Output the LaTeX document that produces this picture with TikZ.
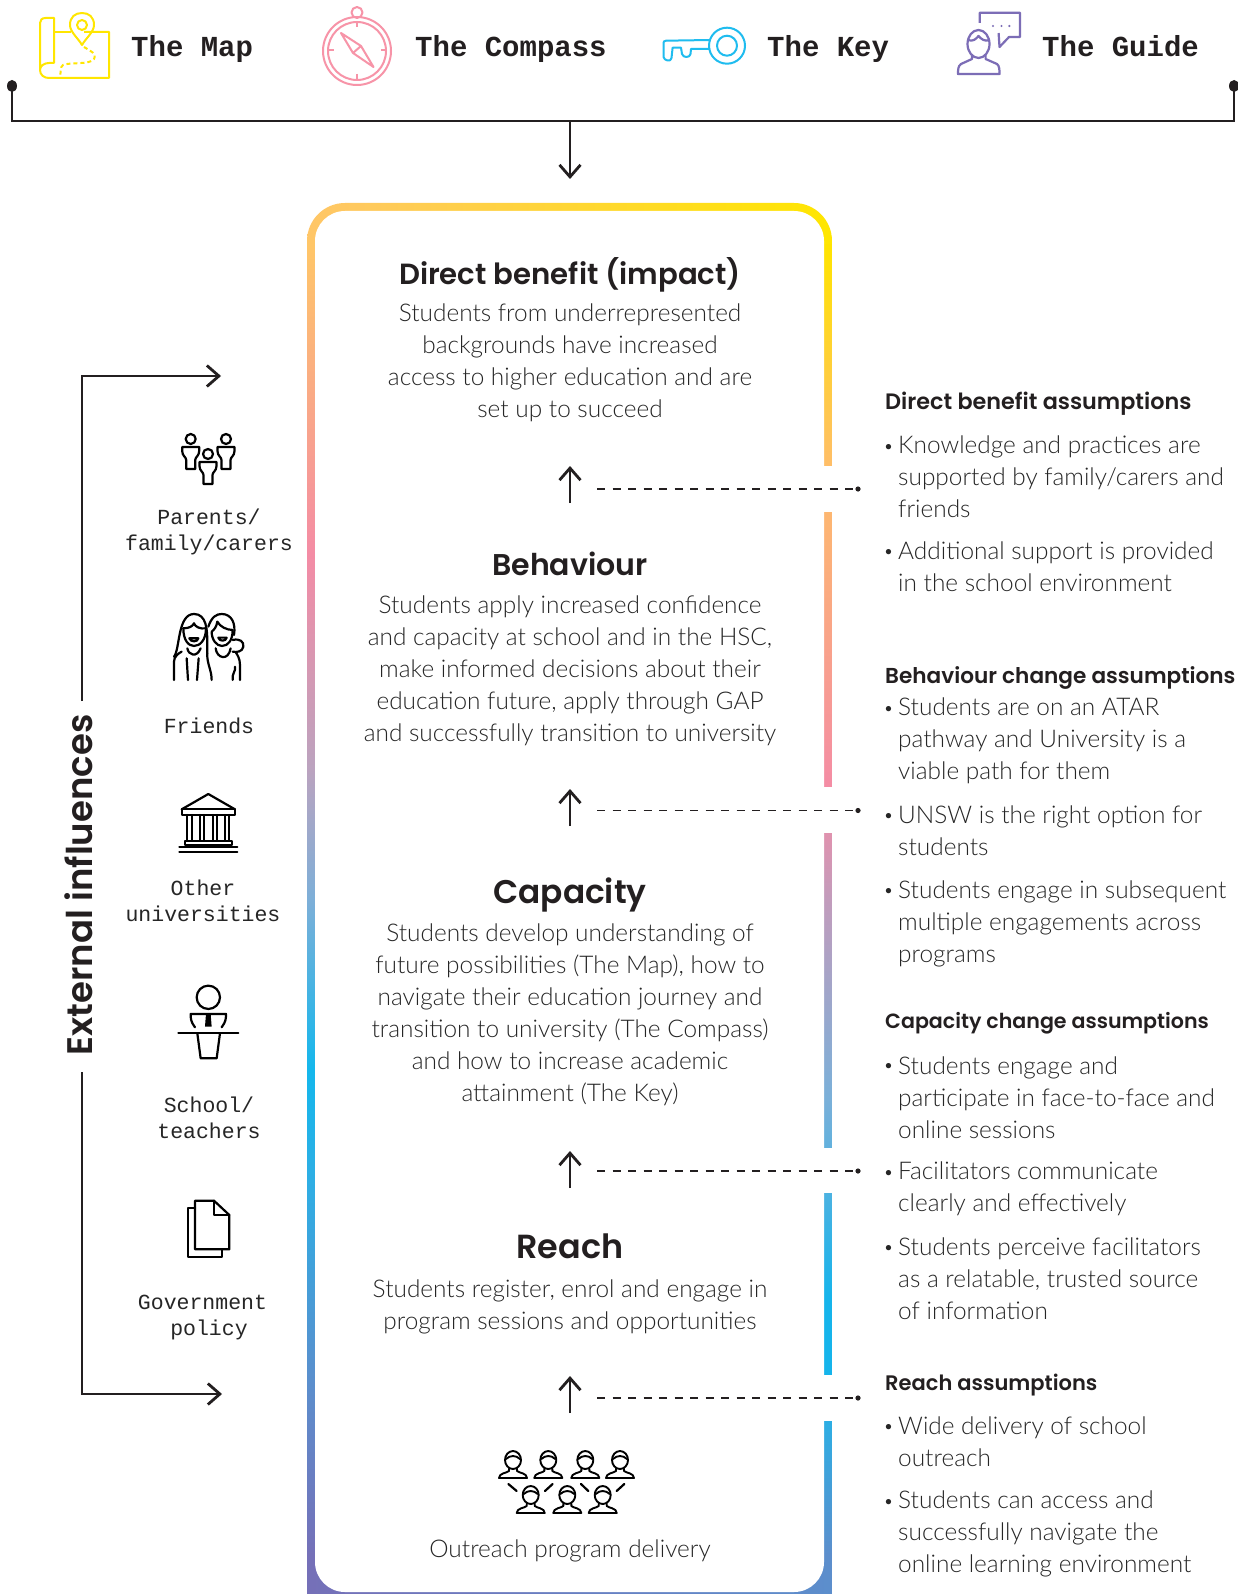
\documentclass[tikz,border=0pt]{standalone}
\usepackage{fontspec}
\usetikzlibrary{arrows.meta}
\setmainfont{Lato}
\newfontfamily\bodyf{Lato Light}
\newfontfamily\headf{Poppins SemiBold}
\newfontfamily\monof{Liberation Mono}
\definecolor{ink}{HTML}{231F20}
\definecolor{txt}{HTML}{262626}
\definecolor{cyel}{HTML}{FFE600}
\definecolor{cpink}{HTML}{F794A8}
\definecolor{lA}{HTML}{7570B8}
\definecolor{lB}{HTML}{5E8CCB}
\definecolor{lB2}{HTML}{2EAEE4}
\definecolor{lC}{HTML}{14B7EC}
\definecolor{lD}{HTML}{7DAFD8}
\definecolor{lD2}{HTML}{BBA3BF}
\definecolor{lE}{HTML}{F48CA5}
\definecolor{lF}{HTML}{FFC668}
\definecolor{rA}{HTML}{5C8ECC}
\definecolor{rB}{HTML}{30ACE2}
\definecolor{rC}{HTML}{15B4EB}
\definecolor{rD}{HTML}{7AB0D9}
\definecolor{rE}{HTML}{C29CBC}
\definecolor{rF}{HTML}{F48CA5}
\definecolor{rG}{HTML}{FFBE68}
\definecolor{rH}{HTML}{FFE400}
\pgfdeclareverticalshading{leftbar}{100bp}{%
 color(0bp)=(lA);
 color(25bp)=(lA);
 color(31bp)=(lB);
 color(39.3bp)=(lB2);
 color(43.5bp)=(lC);
 color(50bp)=(lD);
 color(55bp)=(lD2);
 color(63.2bp)=(lE);
 color(75bp)=(lF);
 color(100bp)=(lF)}
\pgfdeclareverticalshading{rightbar}{100bp}{%
 color(0bp)=(rA);
 color(25bp)=(rA);
 color(29.8bp)=(rB);
 color(31.7bp)=(rC);
 color(34.7bp)=(rC);
 color(42.4bp)=(rD);
 color(50bp)=(rE);
 color(54.3bp)=(rF);
 color(66.6bp)=(rG);
 color(75bp)=(rH);
 color(100bp)=(rH)}
\tikzset{
 x=1pt,y=-1pt,
 arr/.style={draw=ink,line width=2.8pt,-{Straight Barb[length=12pt,width=21pt,line width=2.8pt]}},
 rail/.style={draw=ink,line width=2.8pt},
 dashconn/.style={draw=ink,line width=1.1pt,dash pattern=on 8pt off 7.5pt},
 ttl/.style={font=\monof\bfseries\fontsize{29}{32}\selectfont,text=ink,anchor=base west,inner sep=0pt},
 lbl/.style={font=\monof\fontsize{21.5}{25.5}\selectfont,text=txt,align=center,inner sep=0pt},
 headA/.style={font=\headf\fontsize{30}{36}\selectfont,text=ink,inner sep=0pt},
 bodyt/.style={font=\bodyf\fontsize{24.4}{32}\selectfont,text=txt,align=center,inner sep=0pt},
 sh/.style={text=ink,anchor=west,inner sep=0pt},
 it/.style={font=\bodyf\fontsize{24.4}{32}\selectfont,text=txt,align=left,anchor=west,inner sep=0pt},
 bu/.style={font=\bodyf\fontsize{18}{22}\selectfont,text=txt,inner sep=0pt},
 ic/.style={draw=black,line width=2.2pt,line join=round,line cap=round},
 pics/fam/.style={code={
   \draw[ic] (0,-9) circle (5);
   \draw[ic] (-8.5,-1) -- (8.5,-1) -- (8.5,3) .. controls (8.5,8) and (4.5,9) .. (4.5,12) -- (4.5,21) -- (-4.5,21) -- (-4.5,12) .. controls (-4.5,9) and (-8.5,8) .. (-8.5,3) -- cycle;
 }},
 pics/aud/.style={code={
   \draw[ic,line width=1.9pt] (0,0) circle (8 and 9);
   \draw[ic,line width=1.9pt] (-7,-1) .. controls (-3,-5) and (3,-5) .. (7,-1);
   \draw[ic,line width=1.9pt] (-4,8.5) -- (-4,11) .. controls (-6,13) and (-14,13) .. (-14,18) -- (14,18) .. controls (14,13) and (6,13) .. (4,11) -- (4,8.5);
 }},
}
\begin{document}
\begin{tikzpicture}
\useasboundingbox[fill=white] (0,0) rectangle (1238,1594);
% frame
\begin{scope}
 \clip[rounded corners=38pt] (307,203) rectangle (832,1640);
 \shade[left color=lF,right color=cyel] (307,203) rectangle (832,245);
 \shade[shading=leftbar] (307,245) rectangle (320,1555);
 \shade[shading=rightbar] (820,245) rectangle (832,1555);
 \shade[left color=lA,right color=rA] (307,1555) rectangle (832,1640);
 \fill[white,rounded corners=30pt] (315,211) rectangle (824,1592);
\end{scope}
\fill[white] (820,466) rectangle (834,512);
\fill[white] (820,787) rectangle (834,833);
\fill[white] (820,1148) rectangle (834,1193);
\fill[white] (820,1375) rectangle (834,1421);

% top titles
\node[ttl] (tmap) at (131,57) {The Map};
\node[ttl] (tcomp) at (415,57) {The Compass};
\node[ttl] (tkey) at (767,57) {The Key};
\node[ttl] (tguide) at (1042,57) {The Guide};

% top rail
\coordinate (dotL) at (12,86);
\coordinate (dotR) at (1234,86);
\coordinate (hub) at (570,121);
\coordinate (hubtip) at (570,179);
\fill[ink] (dotL) ellipse (5 and 6);
\fill[ink] (dotR) ellipse (5 and 6);
\draw[rail,line cap=butt] (dotL) |- (hub) -| (dotR);
\draw[arr] (hub) -- (hubtip);

% map icon
\begin{scope}[line width=2pt,line join=round]
 \draw[cyel] (84,32) -- (109,32) -- (109,78) -- (49,78) .. controls (44,78) and (40,75) .. (40,70) -- (40,23) .. controls (40,20) and (42,18) .. (45.5,18) -- (54,18) -- (54,63) -- (49,63) .. controls (44,63) and (40,66) .. (40,70);
 \draw[cyel] (54,32) -- (71,32);
 \draw[cyel] (82,45) .. controls (78,38) and (70,32) .. (70,25) .. controls (70,17) and (75,13) .. (82,13) .. controls (89,13) and (94,17) .. (94,25) .. controls (94,32) and (86,38) .. (82,45) -- cycle;
 \draw[cyel] (82,25) circle (5);
 \draw[cyel,dash pattern=on 4pt off 3pt] (84,47) .. controls (90,51) and (97,53) .. (94,59) .. controls (90,65) and (70,62) .. (63,65) .. controls (60,67) and (60.5,72) .. (60.5,78);
\end{scope}

% compass icon
\begin{scope}[line width=2pt,line join=round]
 \draw[cpink] (357,51) circle (34);
 \draw[cpink] (357,51) circle (29);
 \draw[cpink] (357,12.5) circle (5.5);
 \draw[cpink] (357,22) -- (357,27);
 \draw[cpink] (357,74) -- (357,79);
 \draw[cpink] (329,50) -- (334,50);
 \draw[cpink] (381,50) -- (386,50);
 \draw[cpink] (341,33) -- (361,46) -- (373.5,67) -- (353,53) -- cycle;
 \draw[cpink] (361,46) -- (353,53);
\end{scope}

% key icon
\definecolor{ckey}{HTML}{1FBCEF}
\begin{scope}[line width=2pt,line join=round]
 \draw[ckey] (727,45.7) circle (18);
 \draw[ckey] (727,45.7) circle (10);
 \draw[ckey] (710,40) -- (666,40.7) .. controls (664,40.7) and (663.5,42) .. (663.5,43) -- (663.5,57) .. controls (664,60.5) and (671,62.5) .. (671.5,58) -- (672.6,47.7) -- (681,47.7) -- (682,54) .. controls (683,58) and (690,58) .. (690.5,54) -- (691,49) -- (710,49);
\end{scope}

% guide icon
\definecolor{cgd}{HTML}{7C6DB6}
\begin{scope}[line width=2.2pt,line join=round]
 \draw[cgd] (979.7,23) -- (979.7,12.7) -- (1020,12.7) -- (1020,37) -- (1009,37) -- (999.5,47) -- (998.6,33);
 \fill[cgd] (993,26) circle (1.2) (1001.5,26) circle (1.2) (1009.3,26) circle (1.2);
 \draw[cgd] (978.5,44) ellipse (11 and 14);
 \draw[cgd] (968,40) .. controls (973,42) and (976,39) .. (978.5,36) .. controls (981,39) and (985,42) .. (989.5,40);
 \draw[cgd] (972,55) -- (972,59) -- (961,64) .. controls (958,66) and (958,70) .. (958,74) -- (999.5,74) .. controls (999.5,70) and (999.5,66) .. (997,64) -- (985.6,59) -- (985.6,55);
\end{scope}

% external influences
\node[font=\headf\fontsize{35.5}{40}\selectfont,text=ink,rotate=90,inner sep=0pt] (ext) at (79,885) {External influences};
\coordinate (extTop) at (221,376);
\coordinate (extBot) at (222,1394);
\coordinate (extTopL) at (82,701);
\coordinate (extBotL) at (82,1072);
\draw[arr] (extTopL) |- (extTop);
\draw[arr] (extBotL) |- (extBot);

% left icons
\pic at (190.7,448) {fam};
\pic at (226,448) {fam};
\pic at (208,463) {fam};
\node[lbl] (parents) at (209,532) {Parents/\\family/carers};

\begin{scope}[shift={(100,410)},x=.3333pt,y=-.3333pt]
 \draw[ic] (222,740) .. controls (240,720) and (232,612) .. (282,612) .. controls (320,612) and (322,660) .. (322,700) -- (322,730);
 \draw[ic] (250,655) .. controls (250,690) and (265,708) .. (282,708) .. controls (300,708) and (318,690) .. (318,655);
 \draw[ic] (250,655) .. controls (265,655) and (278,650) .. (282,640) .. controls (285,650) and (300,658) .. (318,655);
 \draw[ic] (268,685) -- (295,685) .. controls (293,697) and (272,697) .. (268,685) -- cycle;
 \draw[ic] (262,715) .. controls (265,735) and (290,745) .. (302,715);
 \draw[ic] (222,810) -- (222,755) .. controls (222,740) and (235,730) .. (245,725);
 \draw[ic] (264,810) -- (260,745);
 \draw[ic] (291,810) -- (296,745);
 \draw[ic] (322,730) .. controls (320,760) and (335,780) .. (335,810);
 \draw[ic] (325,650) .. controls (335,620) and (350,612) .. (365,612) .. controls (395,612) and (408,640) .. (402,675);
 \draw[ic] (335,665) .. controls (335,690) and (350,708) .. (366,708) .. controls (385,708) and (398,690) .. (398,660) .. controls (380,660) and (360,650) .. (352,635) .. controls (350,650) and (342,660) .. (335,665);
 \draw[ic] (355,683) -- (380,683) .. controls (378,695) and (358,695) .. (355,683) -- cycle;
 \draw[ic] (347,715) .. controls (350,745) and (385,755) .. (392,715);
 \draw[ic] (398,690) .. controls (420,685) and (432,695) .. (430,710) .. controls (428,725) and (410,728) .. (398,725);
 \draw[ic] (420,810) -- (420,765) .. controls (420,745) and (412,735) .. (408,728);
 \draw[ic] (398,810) .. controls (395,790) and (408,785) .. (405,770);
\end{scope}
\node[lbl] (friends) at (209,726) {Friends};

\begin{scope}[shift={(100,770)},x=.3333pt,y=-.3333pt]
 \draw[ic] (245,118) -- (325,72) -- (405,118);
 \draw[ic] (245,118) rectangle (405,135);
 \draw[ic] (262,135) -- (262,212) (275,135) -- (275,212);
 \draw[ic] (300,135) -- (300,212) (312,135) -- (312,212);
 \draw[ic] (338,135) -- (338,212) (350,135) -- (350,212);
 \draw[ic] (375,135) -- (375,212) (388,135) -- (388,212);
 \draw[ic] (255,212) -- (395,212) -- (395,225) -- (255,225) -- cycle;
 \draw[ic] (238,232) -- (412,232) (238,245) -- (412,245);
\end{scope}
\node[lbl] (other) at (203,901) {Other\\universities};

\begin{scope}[shift={(100,770)},x=.3333pt,y=-.3333pt]
 \draw[ic] (325,682) circle (35);
 \draw[ic] (285,772) .. controls (272,755) and (272,745) .. (272,732) -- (378,732) .. controls (378,745) and (378,755) .. (365,772);
 \fill[black] (318,732) -- (332,732) -- (335,770) -- (315,770) -- cycle;
 \draw[ic] (235,788) -- (415,788);
 \draw[ic] (292,790) -- (302,865) -- (350,865) -- (360,790);
\end{scope}
\node[lbl] (school) at (209,1118) {School/\\teachers};

\begin{scope}[shift={(60,1180)},x=.3333pt,y=-.3333pt]
 \draw[ic] (405,62) -- (462,62) -- (508,105) -- (508,208) -- (405,208) -- cycle;
 \draw[ic] (462,62) -- (462,105) -- (508,105);
 \draw[ic] (405,85) -- (383,85) -- (383,230) -- (487,230) -- (487,208);
\end{scope}
\node[lbl] (gov) at (202.5,1302) {Government};
\node[lbl] (pol) at (209,1330) {policy};

% centre
\node[headA,font=\headf\fontsize{29.2}{36}\selectfont] (h1) at (570,274.5) {Direct benefit (impact)};
\node[bodyt] (b1) at (570,362.5) {Students from underrepresented\\backgrounds have increased\\access to higher education and are\\set up to succeed};
\node[headA] (h2) at (570,564) {Behaviour};
\node[bodyt] (b2) at (570,670.5) {Students apply increased confidence\\and capacity at school and in the HSC,\\make informed decisions about their\\education future, apply through GAP\\and successfully transition to university};
\node[headA,font=\headf\fontsize{32.8}{40}\selectfont] (h3) at (570,895) {Capacity};
\node[bodyt] (b3) at (570,1015) {Students develop understanding of\\future possibilities (The Map), how to\\navigate their education journey and\\transition to university (The Compass)\\and how to increase academic\\attainment (The Key)};
\node[headA,font=\headf\fontsize{33.4}{40}\selectfont] (h4) at (570,1246) {Reach};
\node[bodyt] (b4) at (570,1306.5) {Students register, enrol and engage in\\program sessions and opportunities};
\foreach \x/\y in {513/1460,548.3/1460,585.3/1460,620/1460,530.7/1495,567.3/1495,602.7/1495} \pic at (\x,\y) {aud};
\begin{scope}[shift={(400,1360)},x=.3333pt,y=-.3333pt]
 \draw[ic] (325,372) -- (350,393) (435,393) -- (458,372) (543,372) -- (565,393) (650,393) -- (673,372);
\end{scope}
\node[bodyt] (b5) at (570,1551) {Outreach program delivery};

% up arrows and dashed links
\foreach \n/\t/\d in {a/466/489,b/789/810.5,c/1151/1171,d/1376/1398}{
 \coordinate (up\n) at (570,\t);
 \coordinate (low\n) at (570,\t+37);
 \coordinate (ds\n) at (597,\d);
 \coordinate (de\n) at (858,\d);
 \draw[arr] (low\n) -- (up\n);
 \draw[dashconn] (ds\n) -- (de\n);
 \fill[ink] (de\n) circle (2.6);
}

% right column
\node[sh,font=\headf\fontsize{22.3}{28}\selectfont] (ra) at (885,403.5) {Direct benefit assumptions};
\node[it] (ra1) at (898,476.7) {Knowledge and practices are\\supported by family/carers and\\friends};
\node[it] (ra2) at (898,566.7) {Additional support is provided\\in the school environment};
\node[sh,font=\headf\fontsize{21.6}{28}\selectfont] (rb) at (885,678) {Behaviour change assumptions};
\node[it] (rb1) at (898,740.5) {Students are on an ATAR\\pathway and University is a\\viable path for them};
\node[it] (rb2) at (898,830.7) {UNSW is the right option for\\students};
\node[it] (rb3) at (898,923.7) {Students engage in subsequent\\multiple engagements across\\programs};
\node[sh,font=\headf\fontsize{20.6}{28}\selectfont] (rc) at (885,1023.5) {Capacity change assumptions};
\node[it] (rc1) at (898,1097.7) {Students engage and\\participate in face-to-face and\\online sessions};
\node[it] (rc2) at (898,1189) {Facilitators communicate\\clearly and effectively};
\node[it] (rc3) at (898,1278.7) {Students perceive facilitators\\as a relatable, trusted source\\of information};
\node[sh,font=\headf\fontsize{21}{28}\selectfont] (rd) at (885,1385) {Reach assumptions};
\node[it] (rd1) at (898,1441.7) {Wide delivery of school\\outreach};
\node[it] (rd2) at (898,1534) {Students can access and\\successfully navigate the\\online learning environment};
\foreach \y in {448,553,710,817,892,1067,1174,1249,1428,1503}
 \node[bu] at (888.5,\y) {•};
\end{tikzpicture}
\end{document}
